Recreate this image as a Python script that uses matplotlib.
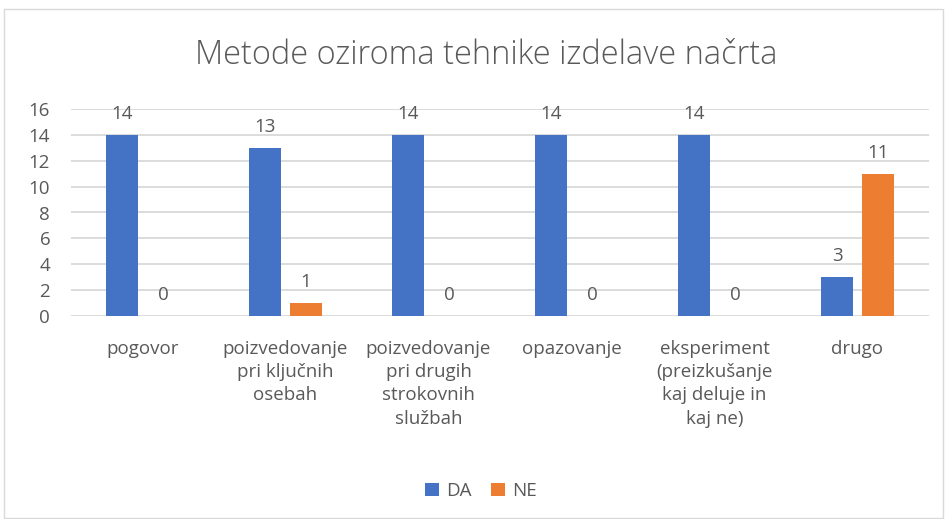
import matplotlib
matplotlib.use("Agg")
import matplotlib.pyplot as plt
import numpy as np
from matplotlib.patches import Rectangle

categories = ["pogovor", "poizvedovanje\npri ključnih\nosebah", "poizvedovanje\npri drugih\nstrokovnih\nslužbah",
              "opazovanje", "eksperiment\n(preizkušanje\nkaj deluje in\nkaj ne)", "drugo"]
da = [14, 13, 14, 14, 14, 3]
ne = [0, 1, 0, 0, 0, 11]
series_names = ["DA", "NE"]
title = "Metode oziroma tehnike izdelave načrta"
yticks = [0, 2, 4, 6, 8, 10, 12, 14, 16]

plt.rcParams['font.family'] = ['Open Sans', 'DejaVu Sans']
txt = '#595959'
fig = plt.figure(figsize=(9.47, 5.19), dpi=100)
fig.patches.append(Rectangle((4/947, 1-518/519), 939/947, 509/519, transform=fig.transFigure,
                             fill=False, edgecolor='#D9D9D9', linewidth=1))
ax = fig.add_axes([71/947, 1-316/519, 858/947, 207/519])
x = np.arange(len(categories))
w = 0.224
off = 0.143
b1 = ax.bar(x - off, da, w, color='#4472C4', label=series_names[0], zorder=3)
b2 = ax.bar(x + off, ne, w, color='#ED7D31', label=series_names[1], zorder=3)
for bars, vals in ((b1, da), (b2, ne)):
    for r, v in zip(bars, vals):
        ax.annotate(str(v), (r.get_x() + r.get_width()/2, v), xytext=(0, 12), textcoords='offset pixels',
                    ha='center', va='bottom', fontsize=13.5, color=txt)
ax.set_xlim(-0.5, len(categories) - 0.5)
ax.set_ylim(0, 16)
ax.set_yticks(yticks)
ax.set_yticklabels([str(t) for t in yticks], fontsize=13.5, color=txt)
ax.set_xticks(x)
ax.set_xticklabels(categories, fontsize=13.5, color=txt, linespacing=1.38, va='top')
ax.tick_params(axis='both', length=0)
ax.tick_params(axis='x', pad=17)
ax.tick_params(axis='y', pad=15)
ax.grid(axis='y', color='#D9D9D9', linewidth=1.3, zorder=0)
for s in ax.spines.values():
    s.set_visible(False)
fig.text(486/947, 1-55/519, title, ha='center', va='center', fontsize=23.5, color=txt, fontweight='light')
fig.legend(handles=[b1, b2], loc='center', bbox_to_anchor=(481/947, 1-491/519), ncol=2, frameon=False,
           fontsize=13.5, labelcolor=txt, handlelength=0.75, handleheight=0.75, handletextpad=0.4, columnspacing=1.0)
fig.savefig('out.png', dpi=100)
